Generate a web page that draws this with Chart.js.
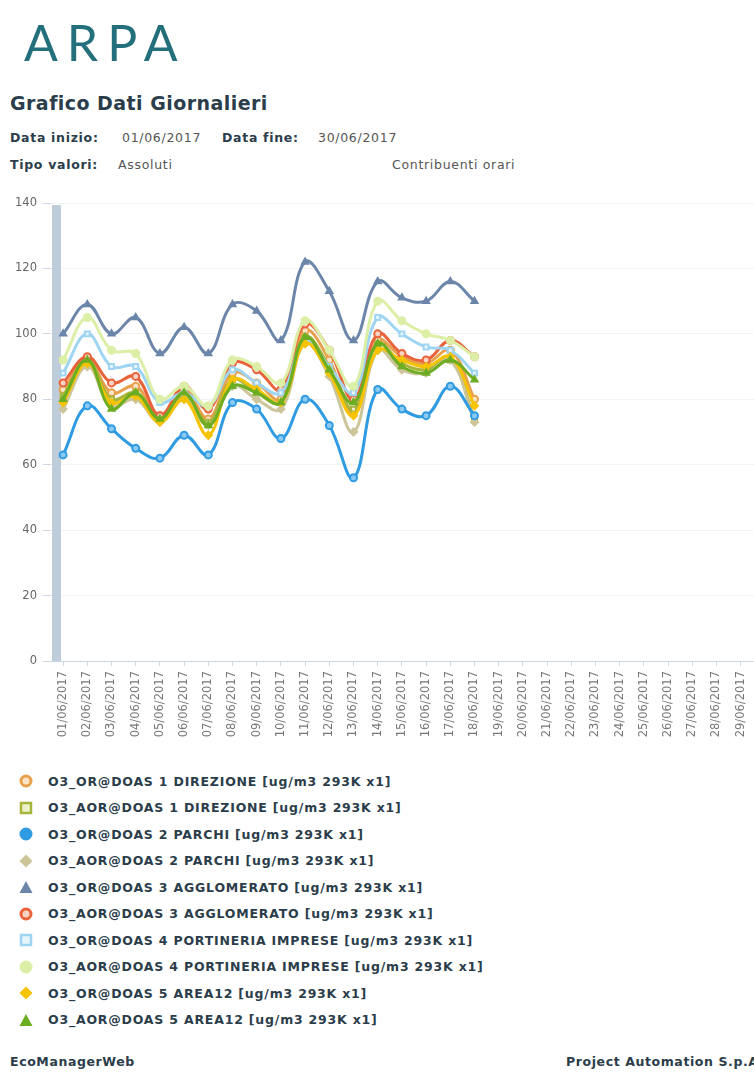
<!DOCTYPE html>
<html>
<head>
<meta charset="utf-8">
<script src="https://cdn.jsdelivr.net/npm/chart.js@4.4.0/dist/chart.umd.min.js"></script>
<style>
  html, body { margin: 0; padding: 0; background: #fff; overflow: hidden; width: 754px; height: 1072px; }
  body { position: relative; font-family: "DejaVu Sans", Verdana, sans-serif; color: #2b3b47; }
  .abs { position: absolute; white-space: nowrap; }
  #logo { left: 24px; top: 12px; font-family: Lato, "Open Sans", sans-serif; font-weight: 400; font-size: 50px; color: #23707c; letter-spacing: 9px; }
  #title { left: 10px; top: 92px; font-size: 19px; font-weight: bold; color: #2b3d4a; letter-spacing: 0.45px; }
  .lbl { font-size: 12.5px; font-weight: bold; color: #2b3d4a; letter-spacing: 0.7px; }
  .val { font-size: 12.5px; color: #555; letter-spacing: 0.7px; }
  #chartBox { position: absolute; left: 0; top: 190px; width: 800px; height: 566px; }
  #legend { position: absolute; left: 18px; top: 768px; }
  .item { height: 26.5px; display: flex; align-items: center; font-size: 12.5px; font-weight: bold; color: #2b3d4a; letter-spacing: 0.8px; }
  .item svg { width: 16px; height: 16px; margin-right: 14px; }
  .foot { font-size: 12.5px; font-weight: bold; color: #2b3d4a; top: 1054px; letter-spacing: 0.6px; }
</style>
</head>
<body>
<div id="logo" class="abs">ARPA</div>
<div id="title" class="abs">Grafico Dati Giornalieri</div>
<div class="abs lbl" style="left:10px;top:130px;">Data inizio:</div>
<div class="abs val" style="left:122px;top:130px;">01/06/2017</div>
<div class="abs lbl" style="left:222px;top:130px;">Data fine:</div>
<div class="abs val" style="left:318px;top:130px;">30/06/2017</div>
<div class="abs lbl" style="left:10px;top:157px;">Tipo valori:</div>
<div class="abs val" style="left:118px;top:157px;">Assoluti</div>
<div class="abs val" style="left:392px;top:157px;">Contribuenti orari</div>

<div id="chartBox"><canvas id="chart"></canvas></div>
<div id="legend"></div>

<div class="abs foot" style="left:10px;">EcoManagerWeb</div>
<div class="abs foot" style="left:566px;">Project Automation S.p.A</div>

<script>
// Days of June 2017
const days = ['01/06/2017','02/06/2017','03/06/2017','04/06/2017','05/06/2017','06/06/2017','07/06/2017','08/06/2017','09/06/2017','10/06/2017',
  '11/06/2017','12/06/2017','13/06/2017','14/06/2017','15/06/2017','16/06/2017','17/06/2017','18/06/2017','19/06/2017','20/06/2017',
  '21/06/2017','22/06/2017','23/06/2017','24/06/2017','25/06/2017','26/06/2017','27/06/2017','28/06/2017','29/06/2017','30/06/2017'];

const seriesNames = [
  'O3_OR@DOAS 1 DIREZIONE [ug/m3 293K x1]',
  'O3_AOR@DOAS 1 DIREZIONE [ug/m3 293K x1]',
  'O3_OR@DOAS 2 PARCHI [ug/m3 293K x1]',
  'O3_AOR@DOAS 2 PARCHI [ug/m3 293K x1]',
  'O3_OR@DOAS 3 AGGLOMERATO [ug/m3 293K x1]',
  'O3_AOR@DOAS 3 AGGLOMERATO [ug/m3 293K x1]',
  'O3_OR@DOAS 4 PORTINERIA IMPRESE [ug/m3 293K x1]',
  'O3_AOR@DOAS 4 PORTINERIA IMPRESE [ug/m3 293K x1]',
  'O3_OR@DOAS 5 AREA12 [ug/m3 293K x1]',
  'O3_AOR@DOAS 5 AREA12 [ug/m3 293K x1]'
];

// values 01/06 - 18/06, nothing after
const direzioneOR  = [83, 92, 82, 84, 75, 83, 74, 88, 85, 80, 101, 92, 76, 98, 93, 91, 95, 80];
const direzioneAOR = [81, 92, 80, 82, 74, 81, 73, 86, 82, 79, 99, 90, 77, 97, 91, 89, 92, 74];
const parchiOR     = [63, 78, 71, 65, 62, 69, 63, 79, 77, 68, 80, 72, 56, 83, 77, 75, 84, 75];
const parchiAOR    = [77, 90, 78, 80, 73, 80, 72, 84, 80, 77, 97, 87, 70, 95, 89, 88, 92, 73];
const agglomOR     = [100, 109, 100, 105, 94, 102, 94, 109, 107, 98, 122, 113, 98, 116, 111, 110, 116, 110];
const agglomAOR    = [85, 93, 85, 87, 75, 84, 77, 91, 89, 83, 103, 95, 80, 100, 94, 92, 98, 93];
const portinOR     = [88, 100, 90, 90, 79, 82, 78, 89, 85, 82, 98, 90, 82, 105, 100, 96, 95, 88];
const portinAOR    = [92, 105, 95, 94, 80, 84, 78, 92, 90, 85, 104, 95, 84, 110, 104, 100, 98, 93];
const area12OR     = [79, 91, 79, 81, 73, 80, 69, 86, 83, 79, 97, 88, 75, 95, 92, 90, 93, 78];
const area12AOR    = [80, 92, 77, 82, 74, 82, 72, 84, 82, 79, 99, 89, 79, 97, 90, 88, 92, 86];

const yTicks = [0, 20, 40, 60, 80, 100, 120, 140];

const allValues = [direzioneOR, direzioneAOR, parchiOR, parchiAOR, agglomOR, agglomAOR, portinOR, portinAOR, area12OR, area12AOR];
const colors  = ['#e9a04a', '#a7b43a', '#2f9be2', '#cdc59a', '#6c86aa', '#e8623a', '#9fd5f2', '#dcefa6', '#f6c300', '#6cad22'];
const fills   = ['#fbe3c4', '#eef2cc', '#2f9be2', '#cdc59a', '#6c86aa', '#fbd3c4', '#e6f5fc', '#dcefa6', '#f6c300', '#6cad22'];
const styles  = ['circle', 'rect', 'circle', 'rectRot', 'triangle', 'circle', 'rect', 'circle', 'rectRot', 'triangle'];

function pad(arr) {
  return days.map((d, i) => (i < arr.length ? arr[i] : null));
}

const datasets = allValues.map((vals, i) => ({
  label: seriesNames[i],
  data: pad(vals),
  borderColor: colors[i],
  backgroundColor: fills[i],
  pointBorderColor: colors[i],
  pointBackgroundColor: i === 2 ? '#8cc9f1' : fills[i],
  pointStyle: styles[i],
  pointRadius: 3.5,
  pointBorderWidth: 2,
  borderWidth: 3,
  tension: 0.4,
  order: i === 4 || i === 2 ? 0 : 10 - i
}));

// light thick band along the y axis
const axisBand = {
  id: 'axisBand',
  beforeDatasetsDraw(chart) {
    const { ctx, chartArea } = chart;
    ctx.save();
    ctx.fillStyle = '#bfcddb';
    ctx.fillRect(chartArea.left + 1, chartArea.top + 2, 9, chartArea.bottom - chartArea.top - 2);
    ctx.restore();
  }
};

new Chart(document.getElementById('chart'), {
  type: 'line',
  data: { labels: days, datasets: datasets },
  options: {
    responsive: true,
    maintainAspectRatio: false,
    animation: false,
    layout: { padding: { top: 13, right: 23, left: 0, bottom: 0 } },
    plugins: { legend: { display: false }, tooltip: { enabled: false } },
    scales: {
      x: {
        offset: true,
        afterFit(scale) { scale.height = 95; },
        grid: { drawOnChartArea: false, drawTicks: true, tickLength: 5, color: '#ccd6e4' },
        border: { color: '#ccd6e4', width: 1 },
        ticks: { minRotation: 90, maxRotation: 90, autoSkip: false, color: '#777', padding: 5,
                 font: { family: 'DejaVu Sans', size: 11.5 } }
      },
      y: {
        min: 0, max: 140,
        afterFit(scale) { scale.width = 51; },
        afterBuildTicks(scale) { scale.ticks = yTicks.map(v => ({ value: v })); },
        grid: { color: '#f3f3f3', tickLength: 8, tickColor: '#ccd6e4' },
        border: { display: false },
        ticks: { color: '#666', padding: 6, font: { family: 'DejaVu Sans', size: 11.5 } }
      }
    }
  },
  plugins: [axisBand]
});

// legend list built from the same series
function marker(style, stroke, fill) {
  let shape;
  if (style === 'circle') shape = `<circle cx="8" cy="8" r="5" fill="${fill}" stroke="${stroke}" stroke-width="3"/>`;
  else if (style === 'rect') shape = `<rect x="3" y="3" width="10" height="10" fill="${fill}" stroke="${stroke}" stroke-width="2.5"/>`;
  else if (style === 'rectRot') shape = `<polygon points="8,1.5 14.5,8 8,14.5 1.5,8" fill="${stroke}"/>`;
  else shape = `<polygon points="8,2 14.5,14 1.5,14" fill="${stroke}"/>`;
  return `<svg viewBox="0 0 16 16">${shape}</svg>`;
}
const legend = document.getElementById('legend');
seriesNames.forEach((name, i) => {
  const row = document.createElement('div');
  row.className = 'item';
  row.innerHTML = marker(styles[i], colors[i], fills[i]) + '<span>' + name + '</span>';
  legend.appendChild(row);
});
</script>
</body>
</html>
